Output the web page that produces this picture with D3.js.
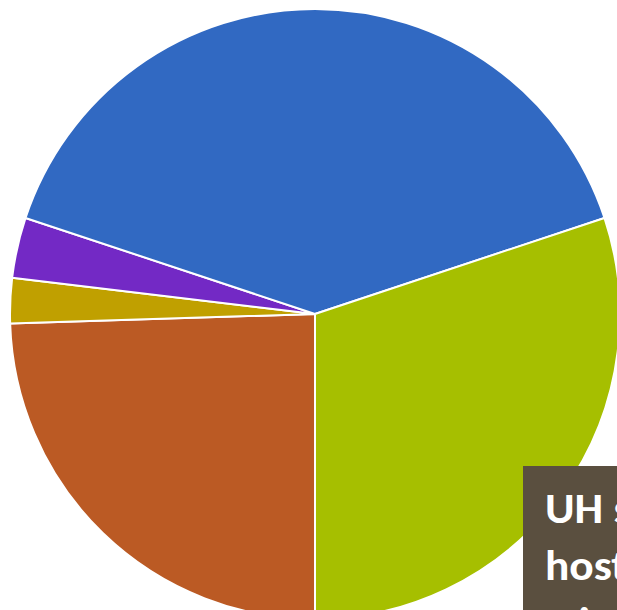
<!DOCTYPE html>
<html>
<head>
<meta charset="utf-8">
<script src="https://cdn.jsdelivr.net/npm/d3@7"></script>
<style>
  html, body { margin: 0; padding: 0; background: #ffffff; overflow: hidden; }
  svg { display: block; }
</style>
</head>
<body>
<svg id="chart" width="617" height="610"></svg>
<script>
// Data (share of the whole in %)
const categories = ["Orange", "Gold", "Purple", "Blue", "Green"];
const values = [24.5, 2.4, 3.2, 39.8, 30.1];
const colors = ["#BB5A24", "#C0A000", "#7329C5", "#3169C2", "#A6BF00"];
const calloutLines = ["UH s", "host", "win"];

const svg = d3.select("#chart");
const cx = 315, cy = 314, radius = 305;

const pie = d3.pie().sort(null).value(d => d.value)
  .startAngle(Math.PI).endAngle(3 * Math.PI);
const arc = d3.arc().innerRadius(0).outerRadius(radius);

const data = categories.map((c, i) => ({ name: c, value: values[i], color: colors[i] }));

svg.append("g")
  .attr("transform", `translate(${cx},${cy})`)
  .selectAll("path")
  .data(pie(data))
  .join("path")
  .attr("d", arc)
  .attr("fill", d => d.data.color)
  .attr("stroke", "#ffffff")
  .attr("stroke-width", 2)
  .attr("stroke-linejoin", "round");

// Overlapping callout box (cut off by the frame)
const box = svg.append("g");
box.append("rect")
  .attr("x", 523).attr("y", 466)
  .attr("width", 200).attr("height", 200)
  .attr("fill", "#5A4F3F");

const txt = box.append("g").attr("transform", "translate(545,0) scale(1.08,1)");
txt.selectAll("text")
  .data(calloutLines)
  .join("text")
  .attr("x", 0)
  .attr("y", (d, i) => 523 + i * 57)
  .attr("fill", "#ffffff")
  .attr("font-family", "Carlito, Calibri, Lato, 'Open Sans', sans-serif")
  .attr("font-weight", 700)
  .attr("font-size", 42)
  .text(d => d);
</script>
</body>
</html>
